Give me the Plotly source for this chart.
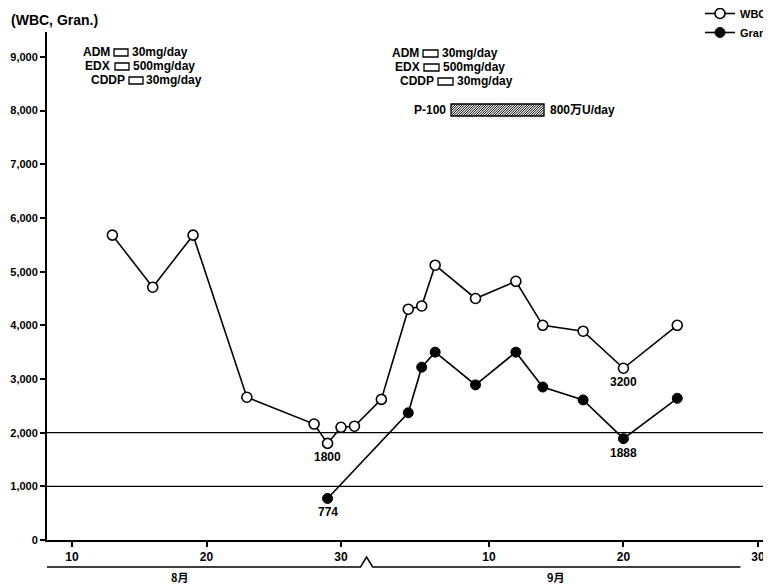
import plotly.graph_objects as go

# ---- data ----
wbc_dates = ["8/13", "8/16", "8/19", "8/23", "8/28", "8/29", "8/30", "8/31", "9/2",
             "9/4", "9/5", "9/6", "9/9", "9/12", "9/14", "9/17", "9/20", "9/24"]
wbc_values = [5680, 4710, 5680, 2660, 2160, 1800, 2100, 2120, 2620,
              4300, 4360, 5120, 4500, 4820, 4000, 3890, 3200, 4000]
gran_dates = ["8/29", "9/4", "9/5", "9/6", "9/9", "9/12", "9/14", "9/17", "9/20", "9/24"]
gran_values = [774, 2370, 3220, 3500, 2890, 3500, 2850, 2610, 1888, 2640]

labelled_wbc = ["8/29", "9/20"]
labelled_gran = ["8/29", "9/20"]

x_tickvals = [10, 20, 30, 41, 51, 61]
x_ticktext = ["10", "20", "30", "10", "20", "30"]
y_tickvals = [0, 1000, 2000, 3000, 4000, 5000, 6000, 7000, 8000, 9000]
y_ticktext = ["0", "1,000", "2,000", "3,000", "4,000", "5,000", "6,000", "7,000", "8,000", "9,000"]
ref_lines = [1000, 2000]
months = [("8月", 18), ("9月", 46)]


def day_index(s):
    m, d = s.split("/")
    return int(d) + (31 if m == "9" else 0)


wbc_x = [day_index(s) for s in wbc_dates]
gran_x = [day_index(s) for s in gran_dates]

FONT = "Liberation Sans, Arial, Helvetica, sans-serif"
CJK = "Noto Sans CJK JP, Noto Sans CJK SC, sans-serif"

# page offset of the figure (body margin)
OFF = 8
# plot area in page pixels
L, R, T, B = 47, 771, 32, 540
PW, PH = R - L, B - T


def fx(px):
    return (px - L) / PW


def fy(py):
    return (B - py) / PH


fig = go.Figure()
fig.add_trace(go.Scatter(
    x=wbc_x, y=wbc_values, mode="lines+markers", name="WBC",
    line=dict(color="black", width=1.6),
    marker=dict(symbol="circle", size=10, color="white", line=dict(color="black", width=1.6)),
))
fig.add_trace(go.Scatter(
    x=gran_x, y=gran_values, mode="lines+markers", name="Gran",
    line=dict(color="black", width=1.6),
    marker=dict(symbol="circle", size=10, color="black", line=dict(color="black", width=1)),
))

shapes = []
for v in ref_lines:
    shapes.append(dict(type="line", xref="paper", yref="y", x0=0, x1=1, y0=v, y1=v,
                       line=dict(color="black", width=1.2)))

annotations = []
# point labels
for s, v in zip(wbc_dates, wbc_values):
    if s in labelled_wbc:
        annotations.append(dict(x=day_index(s), y=v, text=str(v), showarrow=False, yshift=-14,
                                font=dict(size=12, family=FONT, color="black", weight="bold")))
for s, v in zip(gran_dates, gran_values):
    if s in labelled_gran:
        annotations.append(dict(x=day_index(s), y=v, text=str(v), showarrow=False, yshift=-14,
                                font=dict(size=12, family=FONT, color="black", weight="bold")))

# y title
annotations.append(dict(xref="paper", yref="paper", x=fx(9), y=fy(20), xanchor="left", yanchor="middle",
                        text="(WBC, Gran.)", showarrow=False,
                        font=dict(size=14, family=FONT, color="black", weight="bold")))

TFONT = dict(size=12, family=FONT, color="black", weight="bold")


# treatment blocks
def treatment_row(name, name_right, box_l, box_r, value, yc, value_left):
    annotations.append(dict(xref="paper", yref="paper", x=fx(name_right), y=fy(yc), xanchor="right",
                            yanchor="middle", text=name, showarrow=False, font=TFONT))
    annotations.append(dict(xref="paper", yref="paper", x=fx(value_left), y=fy(yc), xanchor="left",
                            yanchor="middle", text=value, showarrow=False, font=TFONT))
    shapes.append(dict(type="rect", xref="paper", yref="paper", x0=fx(box_l), x1=fx(box_r),
                       y0=fy(yc + 4), y1=fy(yc - 3), line=dict(color="black", width=1.3)))


treatment_row("ADM", 112, 114, 128, "30mg/day", 52, 130)
treatment_row("EDX", 112, 115, 129, "500mg/day", 66, 131)
treatment_row("CDDP", 127, 129, 143, "30mg/day", 80, 144)

treatment_row("ADM", 421, 423, 438, "30mg/day", 53, 440)
treatment_row("EDX", 422, 424, 439, "500mg/day", 67, 441)
treatment_row("CDDP", 436, 438, 453, "30mg/day", 81, 455)

# P-100 hatched box
hx0, hx1, hy0, hy1 = 451, 544, 104, 116
annotations.append(dict(xref="paper", yref="paper", x=fx(448), y=fy(110), xanchor="right", yanchor="middle",
                        text="P-100", showarrow=False, font=TFONT))
annotations.append(dict(xref="paper", yref="paper", x=fx(548), y=fy(110), xanchor="left", yanchor="middle",
                        text="800万U/day", showarrow=False,
                        font=dict(size=12, family=FONT + ", " + CJK, color="black", weight="bold")))
shapes.append(dict(type="rect", xref="paper", yref="paper", x0=fx(hx0), x1=fx(hx1), y0=fy(hy1), y1=fy(hy0),
                   line=dict(color="black", width=1.3), fillcolor="white"))
h = hy1 - hy0
segs = []
c = -h
while c < (hx1 - hx0):
    sx, sy = hx0 + c, hy1
    ex, ey = hx0 + c + h, hy0
    if sx < hx0:
        sy = hy1 - (hx0 - sx)
        sx = hx0
    if ex > hx1:
        ey = hy0 + (ex - hx1)
        ex = hx1
    segs.append(f"M{fx(sx):.5f},{fy(sy):.5f} L{fx(ex):.5f},{fy(ey):.5f}")
    c += 2.4
shapes.append(dict(type="path", xref="paper", yref="paper", path=" ".join(segs),
                   line=dict(color="black", width=1.0)))

# month bracket under x axis
by = fy(567)
cy = fy(557)
shapes.append(dict(type="path", xref="x", yref="paper",
                   path=f"M8.14,{by:.5f} L31.45,{by:.5f} L31.9,{cy:.5f} L32.35,{by:.5f} L59.7,{by:.5f}",
                   line=dict(color="black", width=1.5)))
for name, d in months:
    annotations.append(dict(x=d, xref="x", yref="paper", y=fy(577), yanchor="middle", text=name,
                            showarrow=False,
                            font=dict(size=11, family=CJK, color="black", weight="bold")))

fig.update_layout(
    width=771, height=586,
    margin=dict(l=L - OFF, r=771 - (R - OFF), t=T - OFF, b=586 - (B - OFF), pad=0, autoexpand=False),
    paper_bgcolor="white", plot_bgcolor="white",
    showlegend=True,
    legend=dict(x=fx(700), y=fy(-1), xanchor="left", yanchor="top", bgcolor="rgba(0,0,0,0)",
                font=dict(size=11, family=FONT, color="black", weight="bold"),
                itemwidth=30, tracegroupgap=0),
    shapes=shapes,
    annotations=annotations,
    font=dict(family=FONT, color="black"),
)
fig.update_xaxes(range=[8.14, 61.97], tickvals=x_tickvals, ticktext=x_ticktext,
                 showgrid=False, zeroline=False, showline=True, linecolor="black", linewidth=2,
                 ticks="outside", ticklen=5, tickwidth=1.5, tickcolor="black", automargin=False,
                 tickfont=dict(size=12, family=FONT, color="black", weight="bold"))
fig.update_yaxes(range=[0, PH / 53.67 * 1000], tickvals=y_tickvals, ticktext=y_ticktext,
                 showgrid=False, zeroline=False, showline=True, linecolor="black", linewidth=2,
                 ticks="outside", ticklen=5, tickwidth=1.5, tickcolor="black", automargin=False,
                 tickfont=dict(size=11, family=FONT, color="black", weight="bold"))

fig.write_html("out.html")
